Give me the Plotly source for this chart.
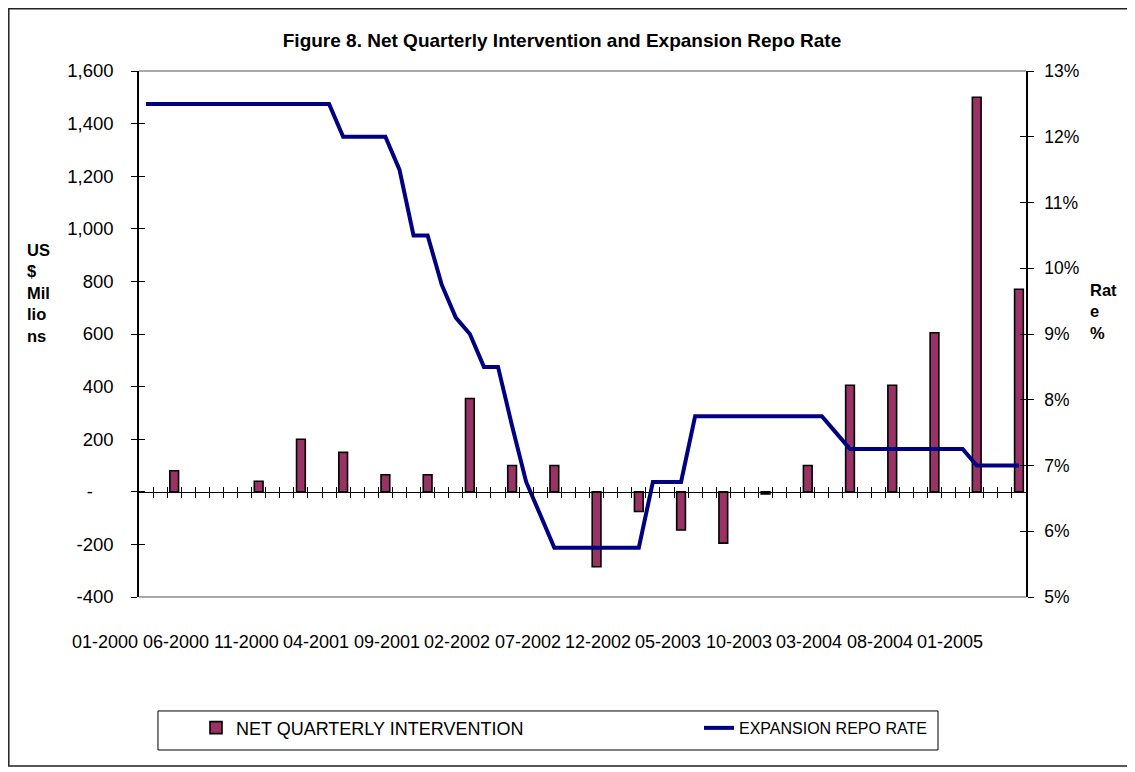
import plotly.graph_objects as go

# ---------------- data ----------------
years = [2000, 2001, 2002, 2003, 2004, 2005]
months = [f"{m:02d}-{y}" for y in years for m in range(1, 13)][:63]   # 01-2000 .. 03-2005

# Expansion repo rate (%), one value per month 01-2000 .. 03-2005
repo_rate = [
    12.5, 12.5, 12.5, 12.5, 12.5, 12.5, 12.5, 12.5, 12.5, 12.5, 12.5, 12.5,   # 2000
    12.5, 12.5, 12.0, 12.0, 12.0, 12.0, 11.5, 10.5, 10.5, 9.75, 9.25, 9.0,    # 2001
    8.5, 8.5, 7.6, 6.75, 6.25, 5.75, 5.75, 5.75, 5.75, 5.75, 5.75, 5.75,      # 2002
    6.75, 6.75, 6.75, 7.75, 7.75, 7.75, 7.75, 7.75, 7.75, 7.75, 7.75, 7.75,   # 2003
    7.75, 7.5, 7.25, 7.25, 7.25, 7.25, 7.25, 7.25, 7.25, 7.25, 7.25, 7.0,     # 2004
    7.0, 7.0, 7.0,                                                            # 2005
]

# Net quarterly intervention (US$ millions), at quarter-end months
quarter_months = ["03-2000", "06-2000", "09-2000", "12-2000", "03-2001", "06-2001",
                  "09-2001", "12-2001", "03-2002", "06-2002", "09-2002", "12-2002",
                  "03-2003", "06-2003", "09-2003", "12-2003", "03-2004", "06-2004",
                  "09-2004", "12-2004", "03-2005"]
intervention = [80, None, 40, 200, 150, 65,
                65, 355, 100, 100, -285, -75,
                -145, -195, -8, 100, 405, 405,
                605, 1500, 770]

x_tick_labels = ["01-2000", "06-2000", "11-2000", "04-2001", "09-2001", "02-2002",
                 "07-2002", "12-2002", "05-2003", "10-2003", "03-2004", "08-2004",
                 "01-2005"]

left_tickvals = [-400, -200, 0, 200, 400, 600, 800, 1000, 1200, 1400, 1600]
left_ticktext = ["-400", "-200", "-\u00a0\u00a0\u00a0\u00a0", "200", "400", "600", "800",
                 "1,000", "1,200", "1,400", "1,600"]
right_tickvals = [5, 6, 7, 8, 9, 10, 11, 12, 13]
right_ticktext = [f"{v}%" for v in right_tickvals]

# ---------------- figure ----------------
FONT = "Liberation Sans, Arial, sans-serif"
idx = list(range(len(months)))
bar_x = [months.index(m) for m in quarter_months]
n = len(months)
xr = [-0.5, n - 0.5]
boundaries = [i + 0.5 for i in range(n - 1)]

fig = go.Figure()
fig.add_trace(go.Bar(
    x=bar_x, y=intervention, name="NET QUARTERLY INTERVENTION",
    width=0.62, marker=dict(color="#993366", line=dict(color="black", width=1.6)),
    xaxis="x", yaxis="y", legend="legend"))
fig.add_trace(go.Scatter(
    x=idx, y=repo_rate, name="EXPANSION REPO RATE", mode="lines",
    line=dict(color="#000080", width=4), xaxis="x", yaxis="y2", legend="legend2"))
# helper traces so the tick-overlay axes are drawn
for xa, ya in [("x2", "y"), ("x", "y3"), ("x", "y4")]:
    fig.add_trace(go.Scatter(x=[None], y=[None], xaxis=xa, yaxis=ya,
                             showlegend=False, hoverinfo="skip"))

# category labels (shifted as in the original), placed in x-domain fractions
label_shift = 2.9
annotations = []
for lab in x_tick_labels:
    pos = months.index(lab) - label_shift
    annotations.append(dict(x=(pos - xr[0]) / (xr[1] - xr[0]), xref="x domain",
                            y=-0.0864, yref="paper", text=lab, showarrow=False,
                            xanchor="center", yanchor="middle",
                            font=dict(family=FONT, size=18, color="black")))
annotations.append(dict(x=-0.128, xref="paper", y=0.578, yref="paper",
                        text="<b>US<br>$<br>Mil<br>lio<br>ns</b>", showarrow=False,
                        xanchor="left", yanchor="middle", align="left",
                        font=dict(family=FONT, size=16.5, color="black")))
annotations.append(dict(x=1.070, xref="paper", y=0.542, yref="paper",
                        text="<b>Rat<br>e<br>%</b>", showarrow=False,
                        xanchor="left", yanchor="middle", align="left",
                        font=dict(family=FONT, size=16.5, color="black")))

shapes = [
    dict(type="line", xref="paper", yref="paper", x0=0, x1=1, y0=1, y1=1,
         line=dict(color="#8c8c8c", width=1.5), layer="below"),
    dict(type="line", xref="paper", yref="paper", x0=0, x1=1, y0=0, y1=0,
         line=dict(color="#8c8c8c", width=1.5), layer="below"),
    # legend frame
    dict(type="rect", xref="paper", yref="paper", x0=0.0214, x1=0.9008,
         y0=-0.2909, y1=-0.2167, line=dict(color="black", width=1)),
    # outer chart frame
    dict(type="rect", xref="paper", yref="paper", x0=-0.1468, x1=1.1161,
         y0=-0.3213, y1=1.1183, line=dict(color="#222222", width=1.5)),
]

axis_common = dict(showgrid=False, zeroline=False, tickcolor="black")
W, H = 1127, 764
fig.update_layout(
    width=W, height=H,
    margin=dict(l=131, r=109, t=63, b=175),
    paper_bgcolor="white", plot_bgcolor="white",
    font=dict(family=FONT, color="black"),
    title=dict(text="<b>Figure 8. Net Quarterly Intervention and Expansion Repo Rate</b>",
               x=554 / W, xref="container", xanchor="center",
               y=1 - 32 / H, yref="container", yanchor="middle",
               font=dict(family=FONT, size=19, color="black")),
    xaxis=dict(range=xr, domain=[0, 1], anchor="free", position=0.2,
               showline=True, linecolor="black", linewidth=1,
               tickmode="array", tickvals=boundaries, ticks="outside", ticklen=5,
               tickwidth=1, showticklabels=False, **axis_common),
    xaxis2=dict(range=xr, overlaying="x", anchor="free", position=0.2,
                tickmode="array", tickvals=boundaries, ticks="inside", ticklen=5,
                tickwidth=1, showline=False, showticklabels=False, **axis_common),
    yaxis=dict(range=[-400, 1600], domain=[0, 1], tickmode="array",
               tickvals=left_tickvals, ticktext=left_ticktext,
               ticks="outside", ticklen=6, tickwidth=1, showline=True,
               linecolor="black", linewidth=1.5, ticklabelstandoff=14,
               tickfont=dict(family=FONT, size=18.5, color="black"), **axis_common),
    yaxis3=dict(range=[-400, 1600], overlaying="y", side="left", tickmode="array",
                tickvals=left_tickvals, ticks="inside", ticklen=6, tickwidth=1,
                showline=False, showticklabels=False, **axis_common),
    yaxis2=dict(range=[5, 13], overlaying="y", side="right", tickmode="array",
                tickvals=right_tickvals, ticktext=right_ticktext, ticks="outside",
                ticklen=6, tickwidth=1, showline=True, linecolor="black", linewidth=1.5,
                ticklabelstandoff=7,
                tickfont=dict(family=FONT, size=17.5, color="black"), **axis_common),
    yaxis4=dict(range=[5, 13], overlaying="y", side="right", tickmode="array",
                tickvals=right_tickvals, ticks="inside", ticklen=6, tickwidth=1,
                showline=False, showticklabels=False, **axis_common),
    showlegend=True,
    legend=dict(orientation="h", x=(196 - 139) / 887, xanchor="left",
                y=-0.249, yanchor="middle", bgcolor="rgba(0,0,0,0)", borderwidth=0,
                font=dict(family=FONT, size=18, color="black")),
    legend2=dict(orientation="h", x=(699 - 139) / 887, xanchor="left",
                 y=-0.249, yanchor="middle", bgcolor="rgba(0,0,0,0)", borderwidth=0,
                 font=dict(family=FONT, size=16, color="black")),
    annotations=annotations, shapes=shapes,
)

fig.write_html("out.html")
